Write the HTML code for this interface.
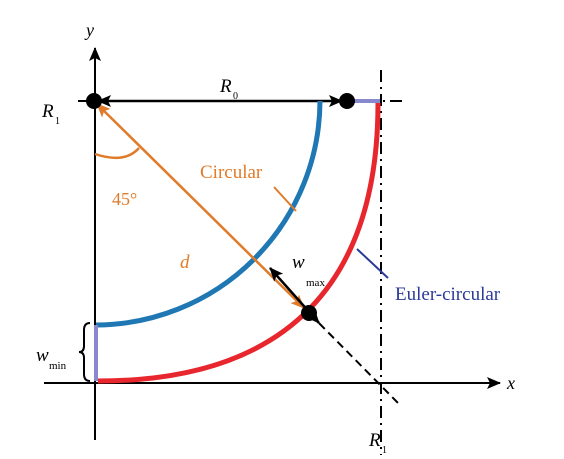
<!DOCTYPE html>
<html><head><meta charset="utf-8"><style>
html,body{margin:0;padding:0;background:#fff}
svg{display:block}
text{font-family:"Liberation Serif",serif}
</style></head><body>
<svg width="564" height="459" viewBox="0 0 564 459">
<defs>
<marker id="ab" markerWidth="14" markerHeight="12" refX="13" refY="6" orient="auto-start-reverse" markerUnits="userSpaceOnUse"><path d="M0,0 L14,6 L0,12 L3,6 Z" fill="#000"/></marker>
<marker id="ao" markerWidth="14" markerHeight="12" refX="13" refY="6" orient="auto-start-reverse" markerUnits="userSpaceOnUse"><path d="M0,0 L14,6 L0,12 L3,6 Z" fill="#e07b2a"/></marker>
</defs>
<line x1="44" y1="383" x2="500" y2="383" stroke="#000" stroke-width="2" marker-end="url(#ab)"/>
<line x1="95" y1="440" x2="95" y2="48" stroke="#000" stroke-width="2" marker-end="url(#ab)"/>
<text x="507" y="389" font-size="18" font-style="italic">x</text>
<text x="86" y="36" font-size="18" font-style="italic">y</text>
<line x1="78" y1="101" x2="402" y2="101" stroke="#000" stroke-width="2" stroke-dasharray="14,5,2,5"/>
<line x1="98" y1="101" x2="342" y2="101" stroke="#000" stroke-width="2.5" marker-start="url(#ab)" marker-end="url(#ab)"/>
<line x1="352" y1="101" x2="380" y2="101" stroke="#8888cc" stroke-width="4"/>
<line x1="381" y1="70" x2="381" y2="455" stroke="#000" stroke-width="2" stroke-dasharray="12,5,2,5"/>
<path d="M320,101 A225,225 0 0 1 96,325" fill="none" stroke="#1f77b4" stroke-width="5"/>
<path d="M378,103 C378,280 290,381 98,381" fill="none" stroke="#e8262e" stroke-width="5"/>
<line x1="96" y1="325" x2="96" y2="381" stroke="#8888cc" stroke-width="4"/>
<line x1="310" y1="314" x2="400" y2="405" stroke="#000" stroke-width="2" stroke-dasharray="8,5"/>
<line x1="97" y1="104" x2="304" y2="308" stroke="#e07b2a" stroke-width="2.5" marker-start="url(#ao)" marker-end="url(#ao)"/>
<path d="M95,154 Q125,164 139,148" fill="none" stroke="#e07b2a" stroke-width="2.5"/>
<text x="112" y="205" font-size="18" fill="#e07b2a" font-family="Liberation Sans,sans-serif">45°</text>
<text x="180" y="268" font-size="19" font-style="italic" fill="#e07b2a">d</text>
<circle cx="94" cy="101" r="8" fill="#000"/>
<circle cx="347" cy="101" r="8" fill="#000"/>
<circle cx="309" cy="313" r="8" fill="#000"/>
<line x1="270" y1="268" x2="319" y2="323" stroke="#000" stroke-width="2.5" marker-start="url(#ab)" marker-end="url(#ab)"/>
<text x="292" y="268" font-size="19" font-style="italic">w</text>
<text x="306" y="286" font-size="11">max</text>
<text x="200" y="178" font-size="19" fill="#e07b2a">Circular</text>
<line x1="274" y1="187" x2="296" y2="211" stroke="#e07b2a" stroke-width="2"/>
<text x="395" y="300" font-size="19" fill="#2b3a9a">Euler-circular</text>
<line x1="357" y1="249" x2="388" y2="278" stroke="#2b3a9a" stroke-width="2"/>
<text x="220" y="92" font-size="19" font-style="italic">R</text>
<text x="233" y="99" font-size="10">0</text>
<text x="42" y="117" font-size="19" font-style="italic">R</text>
<text x="55" y="124" font-size="10">1</text>
<text x="369" y="446" font-size="19" font-style="italic">R</text>
<text x="382" y="453" font-size="10">1</text>
<text x="36" y="361" font-size="19" font-style="italic">w</text>
<text x="49" y="369" font-size="11">min</text>
<path d="M90,323 Q84,323 84,330 L84,346 Q84,352 79,352 Q84,352 84,358 L84,374 Q84,381 90,381" fill="none" stroke="#000" stroke-width="2"/>
</svg>
</body></html>
